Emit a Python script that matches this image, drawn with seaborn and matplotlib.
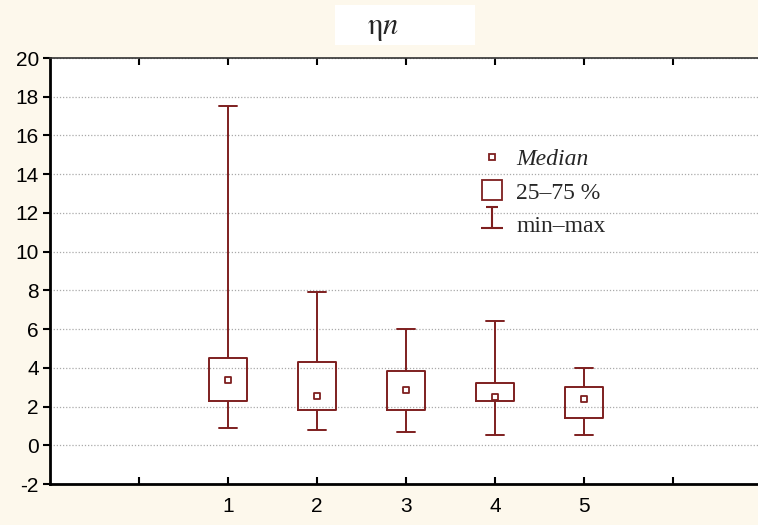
import numpy as np
import pandas as pd
import matplotlib
matplotlib.use("Agg")
import matplotlib.pyplot as plt
from matplotlib.lines import Line2D
from matplotlib.path import Path
from matplotlib.patches import Rectangle
import seaborn as sns

# ---- data ----
groups = [1, 2, 3, 4, 5]
mins = [0.89, 0.81, 0.70, 0.51, 0.51]
q1s = [2.30, 1.81, 1.81, 2.30, 1.40]
medians = [3.35, 2.56, 2.86, 2.49, 2.37]
q3s = [4.49, 4.32, 3.82, 3.23, 3.00]
maxs = [17.5, 7.94, 6.03, 6.44, 4.00]
x_ticks = [0, 1, 2, 3, 4, 5, 6]
x_ticklabels = ["", "1", "2", "3", "4", "5", ""]
y_ticks = list(range(-2, 21, 2))
title = r"$\mathrm{\eta}n$"
legend_labels = ["Median", "25\u201375 %", "min\u2013max"]

# five-number summaries -> long table (quartiles of 5 points = the summary)
rows = []
for g, a, b, c, d, e in zip(groups, mins, q1s, medians, q3s, maxs):
    for v in (a, b, c, d, e):
        rows.append({"group": g, "value": v})
df = pd.DataFrame(rows)
med_df = pd.DataFrame({"group": groups, "median": medians})

sns.set_style("white")
plt.rcParams["font.family"] = ["Liberation Sans", "DejaVu Sans"]
plt.rcParams["mathtext.fontset"] = "stix"

COL = "#7E1F1F"
BG = "#FDF8EC"

fig = plt.figure(figsize=(7.58, 5.25), dpi=100, facecolor=BG)
W, H = 758, 525
ax = fig.add_axes([50 / W, 1 - 484 / H, 708 / W, (484 - 58) / H])
ax.set_facecolor("white")

sns.boxplot(data=df, x="group", y="value", native_scale=True, whis=(0, 100),
            width=0.42, fill=False, color=COL, linecolor=COL, linewidth=1.4,
            medianprops={"visible": False}, showfliers=False, ax=ax)
sns.scatterplot(data=med_df, x="group", y="median", marker="s", s=18,
                facecolor="white", edgecolor=COL, linewidth=1.3, zorder=5, ax=ax)

ax.set_xlim(-1, 6.955)
ax.set_ylim(-2, 20)
ax.set_xticks(x_ticks)
ax.set_xticklabels(x_ticklabels)
ax.set_yticks(y_ticks)
ax.set_yticklabels([str(v) for v in y_ticks])
ax.set_xlabel("")
ax.set_ylabel("")
ax.tick_params(axis="x", direction="in", top=True, bottom=True, length=5,
               width=1.5, labelsize=15, pad=9, colors="black")
ax.tick_params(axis="y", direction="out", left=True, length=5, width=1.5,
               labelsize=15, pad=3, colors="black")
ax.yaxis.grid(True, linestyle=(0, (1, 1.5)), color="#AAAAAA", linewidth=0.9)
ax.xaxis.grid(False)
ax.set_axisbelow(True)
for s in ["left", "bottom"]:
    ax.spines[s].set_color("black")
    ax.spines[s].set_linewidth(2)
ax.spines["top"].set_color("#333333")
ax.spines["top"].set_linewidth(1.2)
ax.spines["right"].set_visible(False)

# title with white box
fig.patches.append(Rectangle((335 / W, 1 - 45 / H), 140 / W, 40 / H,
                             transform=fig.transFigure, facecolor="white",
                             edgecolor="none", zorder=0))
fig.text(383 / W, 1 - 28 / H, title, ha="center", va="center", fontsize=22)

# legend
imark = Path([(-0.55, 1.6), (0.55, 1.6), (0.0, 1.6), (0.0, -0.4), (-1.05, -0.4), (1.05, -0.4)],
             [Path.MOVETO, Path.LINETO, Path.MOVETO, Path.LINETO, Path.MOVETO, Path.LINETO])
handles = [
    Line2D([], [], ls="none", marker="s", markersize=5, mfc="white", mec=COL, mew=1.3),
    Line2D([], [], ls="none", marker="s", markersize=14.5, mfc="white", mec=COL, mew=1.3),
    Line2D([], [], ls="none", marker=imark, markersize=24, mfc="none", mec=COL, mew=1.5),
]
leg = ax.legend(handles, legend_labels, loc="upper left",
                bbox_to_anchor=((470 - 50) / 708, (484 - 137) / 426),
                frameon=False, handlelength=0.9, handletextpad=0.55,
                labelspacing=0.5, borderpad=0.0,
                prop={"family": ["Liberation Serif", "DejaVu Serif"], "size": 17})
leg.get_texts()[0].set_style("italic")

fig.savefig("out.png", dpi=100, facecolor=BG)
